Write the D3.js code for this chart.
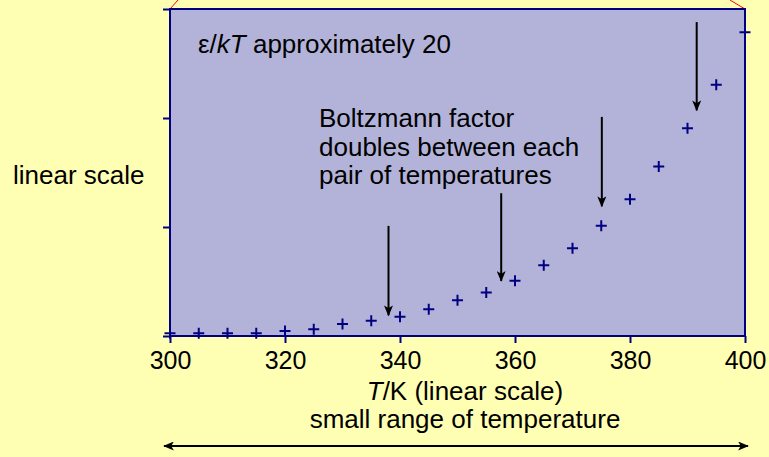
<!DOCTYPE html>
<html>
<head>
<meta charset="utf-8">
<script src="https://cdn.jsdelivr.net/npm/d3@7"></script>
<style>
  body { margin: 0; background: #ffffb3; }
  #chart text { font-family: "Liberation Sans", Arial, sans-serif; fill: #000; }
</style>
</head>
<body>
<div id="chart"></div>
<script>
// temperatures (K) and Boltzmann factor (arbitrary linear units)
const temps = [300, 305, 310, 315, 320, 325, 330, 335, 340, 345, 350, 355, 360, 365, 370, 375, 380, 385, 390, 395, 400];
const factor = [0.025, 0.025, 0.025, 0.025, 0.046, 0.061, 0.11, 0.14, 0.177, 0.245, 0.327, 0.40, 0.507, 0.649, 0.805, 1.012, 1.254, 1.555, 1.905, 2.306, 2.786];
const xTicks = [300, 320, 340, 360, 380, 400];
const yTicks = [0, 1, 2, 3];
// doubling arrows: temperature, top and tip of each arrow (same units as factor)
const arrowT = [338.0, 357.6, 375.1, 391.6];
const arrowTop = [1.01, 1.31, 2.01, 2.88];
const arrowTip = [0.19, 0.505, 1.19, 2.07];

const width = 769, height = 457;
const margin = {top: 9, right: 24, bottom: 121, left: 170};
const navy = "#000080";

const svg = d3.select("#chart")
    .append("svg")
    .attr("width", width)
    .attr("height", height);

svg.append("rect").attr("width", width).attr("height", height).attr("fill", "#ffffb3");

//Scales
const x = d3.scaleLinear()
    .domain([300, 400])
    .range([margin.left, width - margin.right]);
const y = d3.scaleLinear()
    .domain([0, 3])
    .range([height - margin.bottom, margin.top]);

//Arrow heads
const defs = svg.append("defs");
defs.append("marker")
    .attr("id", "head")
    .attr("viewBox", "0 0 12 10")
    .attr("refX", 11).attr("refY", 5)
    .attr("markerUnits", "userSpaceOnUse")
    .attr("markerWidth", 12).attr("markerHeight", 9)
    .attr("orient", "auto-start-reverse")
    .append("path")
    .attr("d", "M0,0 L12,5 L0,10 L3,5 Z")
    .attr("fill", "#000");

//Plot background
svg.append("rect")
    .attr("x", x(300)).attr("y", y(3))
    .attr("width", x(400) - x(300))
    .attr("height", y(0) - y(3))
    .attr("fill", "#b3b3d9");

//Red guide lines at top corners
svg.append("g")
    .attr("stroke", "#ff0000")
    .attr("stroke-width", 1)
    .selectAll("line")
    .data([[x(300), 8], [x(400), -15]])
    .join("line")
    .attr("x1", d => d[0]).attr("y1", y(3))
    .attr("x2", d => d[0] + d[1]).attr("y2", 0);

//Axes
const xAxis = g => g
    .attr("transform", `translate(0,${y(0)})`)
    .call(d3.axisBottom(x).tickValues(xTicks).tickSize(7).tickPadding(7).tickFormat(d3.format("d")))
    .call(g => g.select(".domain").remove())
    .call(g => g.selectAll(".tick line").attr("stroke", navy).attr("stroke-width", 2))
    .call(g => g.selectAll(".tick text").style("font-size", "25px").attr("dy", "0.76em"));

const yAxis = g => g
    .attr("transform", `translate(${x(300)},0)`)
    .call(d3.axisLeft(y).tickValues(yTicks).tickSize(7).tickFormat(""))
    .call(g => g.select(".domain").remove())
    .call(g => g.selectAll(".tick line").attr("stroke", navy).attr("stroke-width", 2));

svg.append("g").call(xAxis);
svg.append("g").call(yAxis);

//Plot frame
svg.append("rect")
    .attr("x", x(300)).attr("y", y(3))
    .attr("width", x(400) - x(300))
    .attr("height", y(0) - y(3))
    .attr("fill", "none")
    .attr("stroke", navy)
    .attr("stroke-width", 2);

//Data points as plus signs
svg.append("g")
    .selectAll("path")
    .data(temps.map((t, i) => ({t, v: factor[i]})))
    .join("path")
    .attr("d", d => `M${x(d.t) - 5.5},${y(d.v)}h11M${x(d.t)},${y(d.v) - 5.5}v11`)
    .attr("stroke", navy)
    .attr("stroke-width", 2)
    .attr("fill", "none");

//Doubling arrows
svg.append("g")
    .selectAll("line")
    .data(arrowT)
    .join("line")
    .attr("x1", d => x(d)).attr("x2", d => x(d))
    .attr("y1", (d, i) => y(arrowTop[i]))
    .attr("y2", (d, i) => y(arrowTip[i]))
    .attr("stroke", "#000")
    .attr("stroke-width", 2)
    .attr("marker-end", "url(#head)");

//Labels
const t1 = svg.append("text")
    .attr("x", x(300) + 28).attr("y", 53)
    .style("font-size", "26px");
t1.append("tspan").text("ε/");
t1.append("tspan").style("font-style", "italic").text("kT");
t1.append("tspan").text(" approximately 20");

svg.append("text")
    .attr("x", 319).attr("y", 127)
    .style("font-size", "26px")
    .selectAll("tspan")
    .data(["Boltzmann factor", "doubles between each", "pair of temperatures"])
    .join("tspan")
    .attr("x", 319)
    .attr("dy", (d, i) => i === 0 ? 0 : 28.5)
    .text(d => d);

svg.append("text")
    .attr("x", 13).attr("y", 184)
    .style("font-size", "26px")
    .text("linear scale");

const t2 = svg.append("text")
    .attr("x", 465).attr("y", 400)
    .attr("text-anchor", "middle")
    .style("font-size", "26px");
t2.append("tspan").style("font-style", "italic").text("T");
t2.append("tspan").text("/K (linear scale)");

svg.append("text")
    .attr("x", 465).attr("y", 428)
    .attr("text-anchor", "middle")
    .style("font-size", "26px")
    .text("small range of temperature");

//Range arrow
svg.append("line")
    .attr("x1", 164).attr("x2", 748)
    .attr("y1", 446).attr("y2", 446)
    .attr("stroke", "#000")
    .attr("stroke-width", 2)
    .attr("marker-start", "url(#head)")
    .attr("marker-end", "url(#head)");
</script>
</body>
</html>
